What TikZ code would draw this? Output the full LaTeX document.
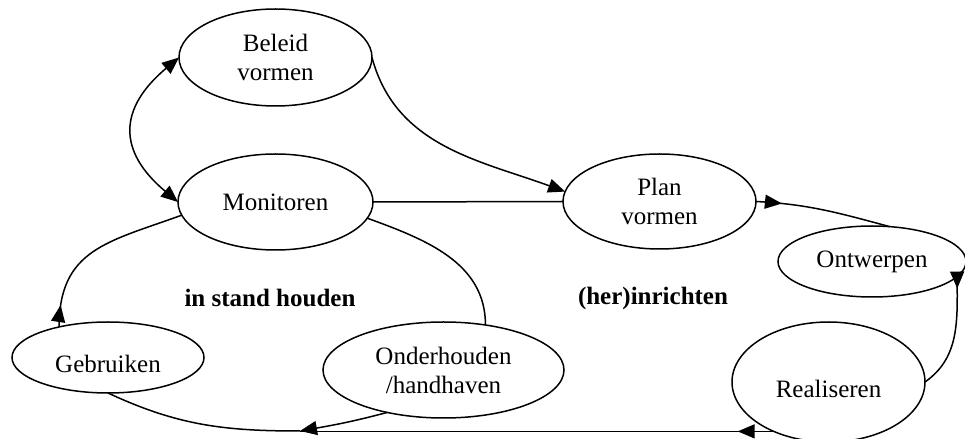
\documentclass[tikz,border=0pt]{standalone}
\usepackage{fontspec}
\setmainfont{Liberation Serif}
\usetikzlibrary{arrows.meta}
\usetikzlibrary{decorations.markings}
\usetikzlibrary{shapes.geometric}
\usetikzlibrary{calc,positioning}

\begin{document}
\begin{tikzpicture}[x=0.5pt, y=0.5pt, >={Triangle[length=8.5pt,width=7pt]},
 line width=0.75pt,
 fase/.style={ellipse, draw, inner sep=0pt, outer sep=0pt, align=center,
   font=\fontsize{12.5}{14.5}\selectfont},
 cyclus/.style={font=\fontsize{12.5}{14.5}\selectfont\bfseries},
 pijlop/.style={postaction={decorate, decoration={markings,
   mark=at position #1 with {\arrow{>}}}}}]
    % kader: Ontwerpen valt er rechts net buiten
    \path[use as bounding box, clip] (0,0) rectangle (965,439);

    % de fases
    \node[fase, minimum width=96.5pt, minimum height=48.5pt] (beleid) at (275.5,381.5) {Beleid\\vormen};
    \node[fase, minimum width=97.5pt, minimum height=48pt] (monitoren) at (275.5,237) {Monitoren};
    \node[fase, minimum width=96.5pt, minimum height=47.5pt] (plan) at (659.5,237.5) {Plan\\vormen};
    \node[fase, minimum width=94pt, minimum height=35.5pt] (ontwerpen) at (872,177.5) {Ontwerpen};
    \node[fase, minimum width=96.5pt, minimum height=60pt, text height=15.5pt] (realiseren) at (828.5,57) {Realiseren};
    \node[fase, minimum width=96pt, minimum height=35.5pt, text height=15pt] (gebruiken) at (108,81.5) {Gebruiken};
    \node[fase, minimum width=120.5pt, minimum height=48pt] (onderhouden) at (443.5,69) {Onderhouden\\/handhaven};

    % de twee kringen
    \node[cyclus] (instand) at (270,141) {in stand houden};
    \node[cyclus] (herinrichten) at (653,141) {(her)inrichten};

    % hier komen de onderste lijnen samen
    \coordinate (onder) at (300,8);

    % verbindingen
    \draw[<->] (beleid.west) to[out=220, in=140, looseness=1.4] (monitoren.west);
    \draw[->] (beleid.east) to[out=-75, in=160] (plan.174);
    \draw (monitoren.east) -- (plan.west);
    \draw[pijlop=13pt] (plan.east) to[out=-3, in=165] (ontwerpen.63);
    \draw[pijlop=6pt] (ontwerpen.-10) to[out=-90, in=35] (realiseren.east);
    \draw[pijlop=18pt] (realiseren.222) -- (realiseren.222 -| onder);
    \draw[->] (onderhouden.217) to[out=195, in=10] (onder);
    \draw (gebruiken.south) to[out=-25, in=180] (onder);
    \draw[pijlop=11pt] (gebruiken.148) to[out=90, in=200, looseness=1.2] (monitoren.188);
    \draw (monitoren.-10) to[out=-20, in=90] (onderhouden.47);

\end{tikzpicture}
\end{document}
